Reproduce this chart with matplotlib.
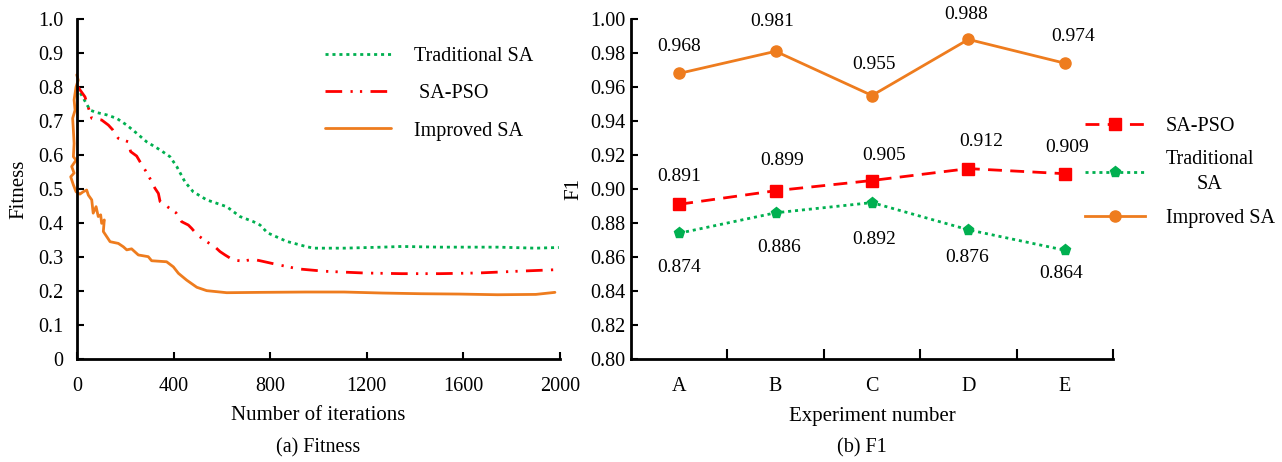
import matplotlib
matplotlib.use("Agg")
import matplotlib.pyplot as plt

plt.rcParams['font.family'] = ['Liberation Serif', 'DejaVu Serif']

# ---------------- data: (a) Fitness ----------------
trad_x = [0, 54, 81, 123, 164, 206, 247, 288, 344, 385, 413, 447, 481, 537, 620, 675,
          730, 758, 789, 868, 947, 979, 1106, 1265, 1344, 1503, 1741, 1900, 1995]
trad_y = [0.80, 0.732, 0.725, 0.718, 0.708, 0.688, 0.664, 0.639, 0.615, 0.595, 0.566,
          0.521, 0.492, 0.468, 0.448, 0.419, 0.404, 0.394, 0.371, 0.346, 0.331, 0.326,
          0.326, 0.329, 0.331, 0.329, 0.329, 0.326, 0.328]

pso_x = [0, 33, 61, 102, 130, 148, 171, 212, 222, 247, 261, 282, 302, 323, 337, 344,
         374, 410, 433, 461, 475, 498, 537, 571, 592, 613, 647, 686, 730, 758, 821, 916,
         1027, 1186, 1344, 1503, 1662, 1820, 1995]
pso_y = [0.804, 0.771, 0.708, 0.703, 0.688, 0.674, 0.649, 0.639, 0.610, 0.597, 0.580,
         0.556, 0.531, 0.502, 0.487, 0.463, 0.448, 0.430, 0.404, 0.394, 0.384, 0.365,
         0.345, 0.330, 0.316, 0.306, 0.291, 0.288, 0.293, 0.289, 0.279, 0.265, 0.258,
         0.253, 0.251, 0.251, 0.253, 0.258, 0.263]

imp_x = [-1, 5, -4, -12, -8, -18, -15, -12, -15, -4, -22, -12, -26, -15, -4, 12, 26, 40,
         47, 61, 67, 79, 88, 98, 102, 113, 109, 137, 171, 192, 206, 226, 254, 295, 309,
         371, 399, 420, 454, 496, 537, 620, 758, 947, 1106, 1265, 1424, 1582, 1741,
         1900, 1979]
imp_y = [0.836, 0.82, 0.80, 0.762, 0.732, 0.708, 0.673, 0.634, 0.595, 0.585, 0.566,
         0.547, 0.536, 0.512, 0.492, 0.485, 0.492, 0.497, 0.482, 0.468, 0.429, 0.448,
         0.419, 0.424, 0.399, 0.409, 0.375, 0.345, 0.340, 0.330, 0.321, 0.324, 0.306,
         0.301, 0.289, 0.286, 0.271, 0.252, 0.232, 0.211, 0.201, 0.195, 0.196, 0.197,
         0.197, 0.194, 0.192, 0.191, 0.189, 0.190, 0.196]

# ---------------- data: (b) F1 ----------------
experiments = ['A', 'B', 'C', 'D', 'E']
f1_improved = [0.968, 0.981, 0.955, 0.988, 0.974]
f1_pso = [0.891, 0.899, 0.905, 0.912, 0.909]
f1_trad = [0.874, 0.886, 0.892, 0.876, 0.864]

GREEN = '#00B050'
RED = '#FF0000'
ORANGE = '#EE7C1E'
FS = 14.5      # ticks / legend
FS_LAB = 15    # axis labels
FS_VAL = 14    # value labels

fig = plt.figure(figsize=(12.82, 4.62), dpi=100)
W, H = 1282, 462

def axrect(l, t, r, b):
    return [l / W, 1 - b / H, (r - l) / W, (b - t) / H]

ax1 = fig.add_axes(axrect(77, 19, 560, 359))
ax2 = fig.add_axes(axrect(631, 19, 1113, 359))

for ax in (ax1, ax2):
    for s in ('top', 'right'):
        ax.spines[s].set_visible(False)
    for s in ('left', 'bottom'):
        ax.spines[s].set_linewidth(2)
    ax.tick_params(direction='in', width=1.5, length=5, labelsize=FS)

# ---- (a)
dotted = (0, (1.1, 1.4))
dashdotdot = (0, (6.0, 3.0, 0.8, 2.6, 0.8, 3.0))
ax1.plot(trad_x, trad_y, color=GREEN, lw=2, linestyle=dotted, label='Traditional SA')
ax1.plot(pso_x, pso_y, color=RED, lw=2, linestyle=dashdotdot, label=' SA-PSO')
ax1.plot(imp_x, imp_y, color=ORANGE, lw=2, solid_capstyle='round', solid_joinstyle='round',
         clip_on=False, label='Improved SA')
ax1.set_xlim(0, 2000)
ax1.set_ylim(0, 1.0)
ax1.set_xticks([0, 400, 800, 1200, 1600, 2000])
ax1.set_yticks([i / 10 for i in range(11)])
ax1.set_yticklabels(['0'] + ['%.1f' % (i / 10) for i in range(1, 11)])
ax1.tick_params(axis='y', pad=10)
ax1.tick_params(axis='x', pad=13)
leg1 = ax1.legend(loc='upper left', bbox_to_anchor=(325 / W, 1 - 47 / H),
                  bbox_transform=fig.transFigure, frameon=False, fontsize=FS,
                  handlelength=3.3, handletextpad=1.1, labelspacing=0.9,
                  borderpad=0, borderaxespad=0)

ax1.text(0.5, (359 - 416) / 340, 'Number of iterations', transform=ax1.transAxes,
         ha='center', va='center', fontsize=FS_LAB)
ax1.text((19 - 77) / 483, 0.5, 'Fitness', transform=ax1.transAxes, rotation=90,
         ha='center', va='center', fontsize=FS_LAB)
fig.text(318 / W, 1 - 448 / H, '(a) Fitness', ha='center', va='center', fontsize=FS)

# ---- (b)
x = list(range(len(experiments)))
l_pso, = ax2.plot(x, f1_pso, color=RED, lw=2, linestyle=(0, (5, 3)), marker='s',
                  ms=8.5, clip_on=False)
l_trad, = ax2.plot(x, f1_trad, color=GREEN, lw=2, linestyle=dotted, marker='p',
                   ms=8, clip_on=False)
l_imp, = ax2.plot(x, f1_improved, color=ORANGE, lw=2, marker='o', ms=8, clip_on=False)
ax2.set_xlim(-0.5, 4.5)
ax2.set_ylim(0.80, 1.00)
ax2.set_yticks([0.80 + 0.02 * i for i in range(11)])
ax2.set_yticklabels(['%.2f' % (0.80 + 0.02 * i) for i in range(11)])
ax2.set_xticks(x)
ax2.set_xticklabels(experiments)
ax2.set_xticks([0.5, 1.5, 2.5, 3.5, 4.5], minor=True)
ax2.tick_params(axis='x', which='major', length=0, pad=13)
ax2.tick_params(axis='x', which='minor', direction='in', length=7, width=1.5)
ax2.tick_params(axis='y', pad=4)

# value labels (offsets in pixels)
imp_off = [(0, 27), (-3, 30), (2, 31), (-2, 25), (8, 27)]
pso_off = [(0, 28), (7, 30), (12, 25), (13, 27), (2, 26)]
trad_off = [(0, -34), (4, -35), (2, -37), (-1, -28), (-4, -23)]
for vals, offs in ((f1_improved, imp_off), (f1_pso, pso_off), (f1_trad, trad_off)):
    for i, (v, (dx, dy)) in enumerate(zip(vals, offs)):
        ax2.annotate('%.3f' % v, (i, v), xytext=(dx * 0.72, dy * 0.72),
                     textcoords='offset points', ha='center', va='center',
                     fontsize=FS_VAL, annotation_clip=False)

ax2.text(0.5, (359 - 416) / 340, 'Experiment number', transform=ax2.transAxes,
         ha='center', va='center', fontsize=FS_LAB)
ax2.text((574 - 631) / 482, 0.5, 'F1', transform=ax2.transAxes, rotation=90,
         ha='center', va='center', fontsize=FS_LAB)
fig.text(862 / W, 1 - 448 / H, '(b) F1', ha='center', va='center', fontsize=FS)

leg2 = fig.legend([l_pso, l_trad, l_imp], ['SA-PSO', 'Traditional\nSA', 'Improved SA'],
                  loc='upper left', bbox_to_anchor=(1085 / W, 1 - 117 / H),
                  frameon=False, fontsize=FS, handlelength=3.0, handletextpad=1.0,
                  labelspacing=0.7, borderpad=0, borderaxespad=0)
for t in leg2.get_texts():
    t.set_multialignment('center')
    t.set_linespacing(1.45)

fig.savefig('out.png', dpi=100)
